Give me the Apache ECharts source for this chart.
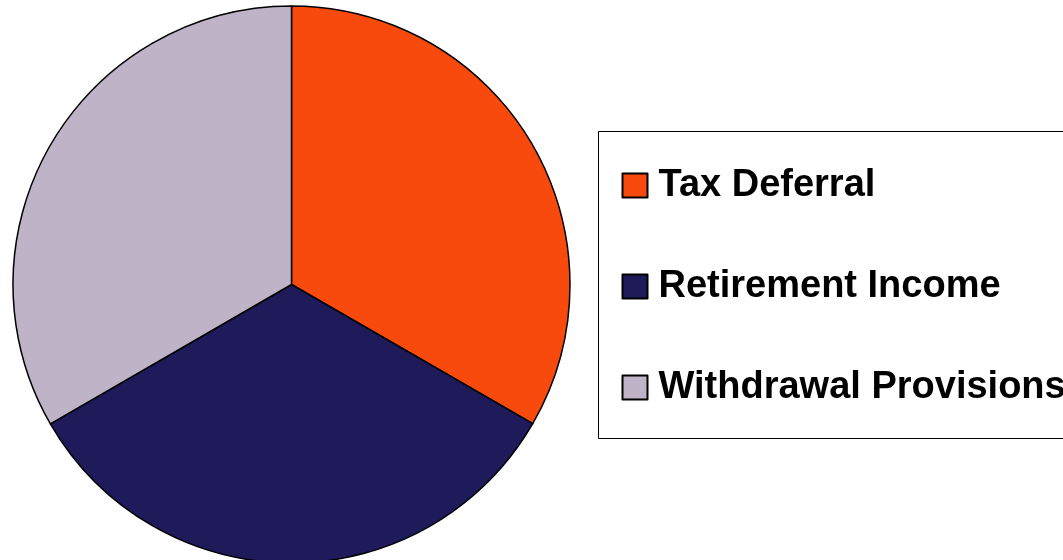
<!DOCTYPE html>
<html>
<head>
<meta charset="utf-8">
<script src="https://cdn.jsdelivr.net/npm/echarts@6/dist/echarts.min.js"></script>
<style>
html,body{margin:0;padding:0;background:#fff;}
#chart{width:1063px;height:560px;}
</style>
</head>
<body>
<div id="chart"></div>
<script>
const categories = ['Tax Deferral', 'Retirement Income', 'Withdrawal Provisions'];
const values = [33.33, 33.33, 33.34];
const colors = ['#F84A0C', '#1F1B5B', '#BFB3C7'];

const chart = echarts.init(document.getElementById('chart'));
chart.setOption({
  animation: false,
  backgroundColor: '#ffffff',
  color: colors,
  legend: {
    orient: 'vertical',
    left: 598.5,
    top: 131.5,
    padding: [32, 40, 29, 23],
    itemGap: 57,
    itemWidth: 25,
    itemHeight: 24,
    icon: 'rect',
    borderColor: '#000',
    borderWidth: 1,
    backgroundColor: '#fff',
    selectedMode: false,
    data: categories,
    textStyle: {
      fontFamily: 'Liberation Sans',
      fontWeight: 'bold',
      fontSize: 38,
      lineHeight: 40,
      color: '#000',
      padding: [4, 0, 0, 6]
    }
  },
  series: [{
    type: 'pie',
    center: [291.5, 284.5],
    radius: 278.5,
    startAngle: 90,
    clockwise: true,
    label: { show: false },
    labelLine: { show: false },
    emphasis: { disabled: true },
    itemStyle: { borderColor: '#000', borderWidth: 1.5 },
    data: categories.map((c, i) => ({ name: c, value: values[i] }))
  }]
});
</script>
</body>
</html>
